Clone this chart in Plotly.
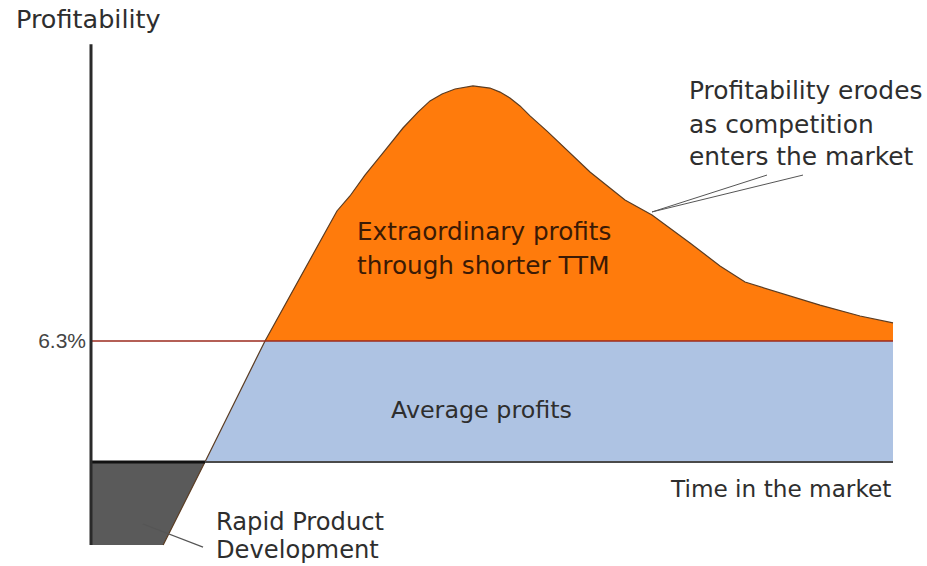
import plotly.graph_objects as go

# ---- data (time in market 0..100, profitability in %) ----
curve_time = [9.0, 14.21, 21.70, 25.19, 28.18, 30.67, 32.29, 34.16, 36.41, 38.90,
              40.77, 42.27, 43.77, 45.39, 47.63, 49.75, 51.00, 52.24, 53.49, 54.74,
              56.86, 58.85, 62.22, 66.58, 69.95, 74.69, 78.43, 81.55, 85.91, 90.90,
              95.89, 100.0]
curve_profit = [-4.32, 0.0, 6.30, 8.96, 11.19, 13.07, 13.85, 14.94, 16.09, 17.39,
                18.22, 18.80, 19.16, 19.42, 19.58, 19.47, 19.26, 18.95, 18.54, 18.02,
                17.23, 16.45, 15.10, 13.64, 12.86, 11.40, 10.21, 9.37, 8.80, 8.17,
                7.60, 7.24]
average_profit = 6.3
y_axis_top = 21.75
time_end = 100.0
tick_vals = [6.3]
tick_text = ["6.3%"]

# leader lines (annotation pointers)
erode_leader_a = ([69.95, 84.29], [13.02, 14.94])
erode_leader_b = ([69.95, 88.78], [13.02, 14.94])
rapid_leader = ([6.48, 13.97], [-3.23, -4.43])

W, H = 927, 566
x_range = [-11.347, 104.24]
y_range = [-5.415, 24.055]

ORANGE = "#ff7b0c"
BLUE = "#aec3e3"
DARK = "#5a5a5a"

fig = go.Figure()

# average profits (blue)
fig.add_trace(go.Scatter(
    x=[curve_time[1], curve_time[2], time_end, time_end],
    y=[0, average_profit, average_profit, 0],
    fill="toself", fillcolor=BLUE, mode="none", hoverinfo="skip"))

# rapid product development (dark)
fig.add_trace(go.Scatter(
    x=[0, 0, curve_time[0], curve_time[1]],
    y=[0, curve_profit[0], curve_profit[0], 0],
    fill="toself", fillcolor=DARK, mode="none", hoverinfo="skip"))

# extraordinary profits (orange)
fig.add_trace(go.Scatter(
    x=curve_time[2:] + [time_end],
    y=curve_profit[2:] + [average_profit],
    fill="toself", fillcolor=ORANGE, mode="none", hoverinfo="skip"))

# curve outline
fig.add_trace(go.Scatter(
    x=curve_time, y=curve_profit, mode="lines",
    line=dict(color="#5b3c22", width=1.2), hoverinfo="skip"))

# 6.3% line
fig.add_trace(go.Scatter(
    x=[0, time_end], y=[average_profit, average_profit], mode="lines",
    line=dict(color="#9b2a1e", width=1.5), hoverinfo="skip"))

# x axis line
fig.add_trace(go.Scatter(
    x=[curve_time[1], time_end], y=[0, 0], mode="lines",
    line=dict(color="#4a4a4a", width=2), hoverinfo="skip"))
fig.add_trace(go.Scatter(
    x=[0, curve_time[1]], y=[0, 0], mode="lines",
    line=dict(color="#111111", width=3), hoverinfo="skip"))

# y axis line
fig.add_trace(go.Scatter(
    x=[0, 0], y=[curve_profit[0], y_axis_top], mode="lines",
    line=dict(color="#2a2a2a", width=3), hoverinfo="skip"))

# leader lines
for lx, ly in (erode_leader_a, erode_leader_b):
    fig.add_trace(go.Scatter(x=lx, y=ly, mode="lines",
                             line=dict(color="#555555", width=1), hoverinfo="skip"))
fig.add_trace(go.Scatter(x=rapid_leader[0], y=rapid_leader[1], mode="lines",
                         line=dict(color="#555555", width=1.2), hoverinfo="skip"))

FONT = "DejaVu Sans"
TXT = "#2e2e2e"


def px_x(p):
    return p / W


def px_y(p):
    return 1 - p / H


annots = []


def add_text(text, x, y, xanchor="left", size=24, color=TXT):
    annots.append(dict(text=text, x=px_x(x), y=px_y(y), xref="paper", yref="paper",
                       xanchor=xanchor, yanchor="middle", showarrow=False,
                       borderpad=0,
                       font=dict(family=FONT, size=size, color=color)))


add_text("Profitability", 15, 19, size=25.5)
add_text("Time in the market", 892, 488, xanchor="right", size=23.2)
add_text("Rapid Product", 215, 522, size=24.2)
add_text("Development", 215, 550, size=24.2)
add_text("Average profits", 481, 410, xanchor="center", size=23.8)
add_text("Extraordinary profits", 356, 231, size=24.7, color="#3b1a05")
add_text("through shorter TTM", 356, 265, size=24.7, color="#3b1a05")
add_text("Profitability erodes", 688, 90, size=24.9)
add_text("as competition", 688, 124, size=24.9)
add_text("enters the market", 688, 157, size=24.9)

fig.update_layout(
    width=W, height=H,
    margin=dict(l=0, r=0, t=0, b=0),
    paper_bgcolor="white", plot_bgcolor="white",
    showlegend=False,
    xaxis=dict(range=x_range, visible=False, fixedrange=True),
    yaxis=dict(range=y_range, showgrid=False, zeroline=False, showline=False,
               tickvals=tick_vals, ticktext=tick_text, ticks="",
               anchor="free", position=91 / W, ticklabelstandoff=5,
               tickfont=dict(family="Liberation Sans", size=21, color="#444444"),
               fixedrange=True),
    annotations=annots,
)

fig.write_html("out.html", config={"displayModeBar": False},
               post_script="document.body.style.margin='0px';")
